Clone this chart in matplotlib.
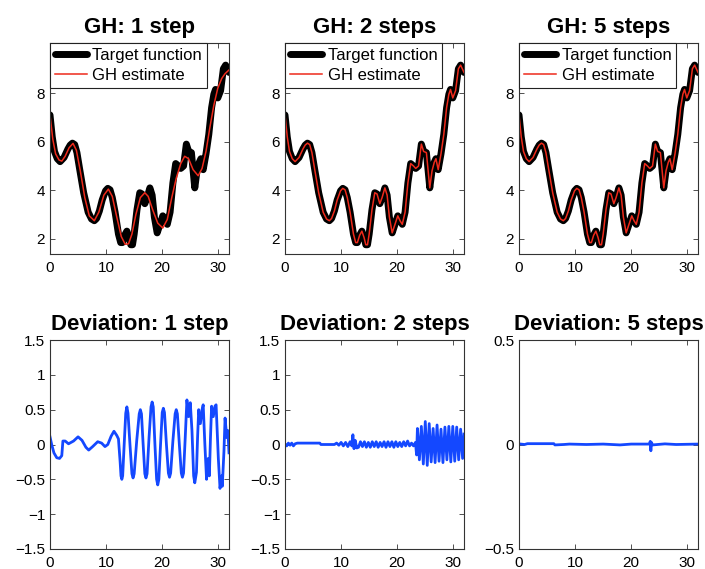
import numpy as np
import matplotlib.pyplot as plt
from matplotlib.ticker import FuncFormatter

plt.rcParams['font.family'] = ['Liberation Sans', 'DejaVu Sans']

# target function (same in every panel)
target_x = [0.0, 0.4, 0.8, 1.3, 1.8, 2.5, 3.2, 3.6, 4.0, 4.4, 4.8, 5.3, 6.0, 6.8, 7.4, 7.9,
            8.3, 8.8, 9.3, 9.9, 10.3, 10.7, 11.1, 11.6, 12.2, 12.6, 12.9, 13.3, 13.7, 14.1,
            14.4, 14.7, 15.0, 15.5, 16.0, 16.4, 16.9, 17.3, 17.8, 18.2, 18.6, 19.1, 19.6,
            20.1, 20.5, 20.9, 21.4, 21.9, 22.4, 22.9, 23.3, 23.8, 24.3, 24.7, 25.2, 25.8,
            26.2, 26.6, 26.9, 27.3, 27.8, 28.3, 28.8, 29.2, 29.5, 29.9, 30.4, 30.9, 31.3, 31.9]
target_y = [7.1, 6.2, 5.6, 5.3, 5.18, 5.35, 5.7, 5.86, 5.94, 5.88, 5.55, 4.85, 3.9, 3.1, 2.82, 2.75,
            2.84, 3.15, 3.6, 3.98, 4.08, 4.02, 3.7, 3.1, 2.2, 1.85, 1.85, 2.15, 2.32, 2.05,
            1.76, 1.76, 2.2, 3.2, 3.9, 3.85, 3.45, 3.7, 4.1, 3.8, 2.9, 2.25, 2.6,
            2.95, 2.75, 2.6, 3.1, 4.3, 5.1, 5.0, 4.9, 5.0, 5.9, 5.6, 5.55, 4.1,
            4.8, 5.15, 5.3, 4.85, 5.5, 6.3, 7.4, 7.95, 8.15, 7.8, 8.1, 9.0, 9.15, 8.85]

# GH estimate after one step (smooth)
est1_x = [0.0, 0.5, 1.0, 1.6, 2.1, 2.7, 3.4, 4.1, 4.7, 5.4, 6.2, 7.0, 7.9, 8.7, 9.6,
          10.4, 11.1, 11.9, 12.7, 13.4, 14.0, 14.6, 15.3, 16.1, 16.9, 17.5, 18.3, 19.2,
          20.1, 20.9, 21.7, 22.5, 23.3, 24.0, 24.7, 25.5, 26.4, 27.1, 27.8, 28.5, 29.2,
          29.9, 30.6, 31.2, 31.9]
est1_y = [7.1, 6.1, 5.5, 5.25, 5.2, 5.4, 5.75, 5.93, 5.65, 4.8, 3.7, 2.95, 2.75, 3.1, 3.8,
          4.05, 3.75, 2.9, 2.1, 1.78, 1.8, 2.2, 3.0, 3.7, 3.9, 3.75, 3.2, 2.65,
          2.45, 2.8, 3.7, 4.5, 5.1, 5.4, 5.3, 4.85, 4.6, 4.9, 5.6, 6.6, 7.5,
          8.2, 8.6, 8.8, 8.95]

# deviations
dev1_x = [0.0, 0.3, 0.7, 1.2, 1.7, 2.1, 2.3, 2.7, 3.3, 4.2, 5.0, 5.7, 6.4, 6.9, 7.6,
          8.5, 9.2, 9.8, 10.3, 10.9, 11.4, 11.9, 12.2, 12.5, 12.65, 12.8, 12.95, 13.25,
          13.5, 13.7, 13.9, 14.25, 14.6, 14.8, 15.0, 15.45, 15.9, 16.1, 16.3, 16.6, 16.9,
          17.1, 17.3, 17.65, 18.0, 18.2, 18.4, 18.7, 19.0, 19.2, 19.4, 19.7, 20.0, 20.2,
          20.4, 20.75, 21.1, 21.3, 21.5, 21.9, 22.3, 22.5, 22.7, 23.05, 23.4, 23.6, 23.8,
          24.1, 24.4, 24.7, 25.0, 25.3, 25.6, 25.8, 26.1, 26.3, 26.5, 26.8, 27.1, 27.3,
          27.6, 27.9, 28.2, 28.4, 28.6, 28.8, 29.1, 29.4, 29.6, 30.0, 30.3, 30.6, 30.7,
          31.0, 31.2, 31.5, 31.7, 31.9]
dev1_y = [0.11, 0.0, -0.12, -0.19, -0.2, -0.16, 0.05, 0.05, 0.01, 0.05, 0.11, 0.06, -0.04, -0.08, -0.03,
          0.04, 0.02, -0.03, 0.0, 0.12, 0.19, 0.13, 0.08, -0.25, -0.45, -0.5, -0.45, 0.05,
          0.45, 0.54, 0.45, 0.0, -0.42, -0.48, -0.42, 0.05, 0.44, 0.5, 0.44, 0.0, -0.42,
          -0.48, -0.42, 0.1, 0.54, 0.61, 0.54, 0.0, -0.5, -0.58, -0.5, 0.0, 0.46, 0.52,
          0.46, 0.0, -0.41, -0.47, -0.41, 0.05, 0.44, 0.5, 0.44, 0.0, -0.41, -0.47, -0.41,
          0.1, 0.64, 0.4, 0.6, 0.2, -0.45, -0.55, -0.4, 0.1, 0.5, 0.3, 0.5, 0.57,
          0.0, -0.5, -0.2, -0.45, 0.1, 0.55, 0.4, 0.55, 0.57, -0.2, -0.63, -0.45, -0.6,
          -0.1, 0.38, 0.1, 0.2, -0.12]

dev2_x = [0.0, 0.3, 0.6, 0.9, 1.2, 1.5, 1.8, 2.2, 3.0, 4.0, 5.0, 6.2, 6.4, 7.0, 8.0,
          8.8, 9.2, 9.6, 10.0, 10.4, 10.8, 11.2, 11.6, 11.9, 12.1, 12.3, 12.5, 12.8,
          13.1, 13.45, 13.8, 14.15, 14.5, 14.85, 15.2, 15.55, 15.9, 16.25, 16.6, 16.95,
          17.3, 17.65, 18.0, 18.35, 18.7, 19.05, 19.4, 19.75, 20.1, 20.45, 20.8, 21.15,
          21.5, 21.85, 22.2, 22.55, 22.9, 23.25, 23.45, 23.6, 23.95, 24.3, 24.65, 25.0,
          25.35, 25.7, 26.05, 26.4, 26.75, 27.1, 27.45, 27.8, 28.15, 28.5, 28.85, 29.2,
          29.55, 29.9, 30.25, 30.6, 30.95, 31.3, 31.65, 31.9]
dev2_y = [0.01, -0.02, 0.02, -0.01, 0.02, -0.02, 0.01, 0.02, 0.02, 0.02, 0.02, 0.02, 0.0, 0.0, 0.0,
          0.0, 0.02, -0.01, 0.03, -0.02, 0.03, -0.03, 0.04, -0.02, 0.14, -0.06, 0.06, -0.05,
          -0.04, 0.04, -0.03, 0.04, -0.04, 0.03, -0.04, 0.04, -0.03, 0.04, -0.04, 0.03,
          -0.03, 0.04, -0.04, 0.04, -0.03, 0.04, -0.04, 0.04, -0.03, 0.03, -0.03, 0.04,
          -0.02, 0.05, -0.02, 0.02, -0.02, 0.03, -0.15, 0.23, -0.22, 0.26, -0.28, 0.33,
          -0.30, 0.30, -0.25, 0.23, -0.26, 0.28, -0.24, 0.22, -0.26, 0.25, -0.22, 0.26,
          -0.25, 0.26, -0.24, 0.25, -0.22, 0.22, -0.2, 0.15]

dev5_x = [0.0, 1.0, 1.5, 3.0, 6.2, 6.4, 8.0, 9.0, 12.0, 15.0, 18.0, 20.0, 23.2, 23.4,
          23.5, 23.6, 23.8, 26.0, 28.0, 31.9]
dev5_y = [0.003, 0.0, 0.004, 0.004, 0.004, -0.002, 0.0, 0.002, 0.0, 0.002, -0.002, 0.002,
          0.002, 0.015, -0.03, 0.01, -0.002, 0.003, 0.0, 0.002]

titles_top = ['GH: 1 step', 'GH: 2 steps', 'GH: 5 steps']
titles_dev = ['Deviation: 1 step', 'Deviation: 2 steps', 'Deviation: 5 steps']
dev_lims = [1.5, 1.5, 0.5]

est_x = [est1_x, target_x, target_x]
est_y = [est1_y, target_y, target_y]
devs = [(dev1_x, dev1_y), (dev2_x, dev2_y), (dev5_x, dev5_y)]

RED = '#ee2a1b'
BLUE = '#1448ff'
XMAX = 31.9

fig = plt.figure(figsize=(7.05, 5.69), dpi=100)
lefts = [50 / 705, 285 / 705, 519 / 705]
w = 179 / 705

# matlab-ish tick labels: 1, 0.5, -0.5 with a real minus sign
fmt = FuncFormatter(lambda v, _: ('%g' % v).replace('-', '\u2212'))


def style(ax):
    ax.tick_params(direction='in', top=True, right=True, length=3.5, width=0.6,
                   labelsize=11, colors='#333333', labelcolor='black')
    ax.tick_params(axis='x', pad=5)
    ax.xaxis.set_major_formatter(fmt)
    ax.yaxis.set_major_formatter(fmt)
    for s in ax.spines.values():
        s.set_color('#333333')
        s.set_linewidth(0.8)


for i in range(3):
    ax = fig.add_axes([lefts[i], 1 - 254 / 569, w, 211 / 569])
    ax.plot(target_x, target_y, color='black', linewidth=5, label='Target function',
            solid_joinstyle='round', solid_capstyle='round')
    ax.plot(est_x[i], est_y[i], color=RED, linewidth=1.1, label='GH estimate')
    ax.set_xlim(0, XMAX)
    ax.set_ylim(1.38, 10.06)
    ax.set_xticks([0, 10, 20, 30])
    ax.set_yticks([2, 4, 6, 8])
    ax.set_title(titles_top[i], fontsize=16, fontweight='bold', pad=7.5)
    leg = ax.legend(loc='upper left', borderaxespad=0, fontsize=12, handlelength=1.9,
                    handletextpad=0.35, labelspacing=0.3, borderpad=0.3,
                    fancybox=False, framealpha=1)
    leg.get_frame().set_edgecolor('#222222')
    leg.get_frame().set_linewidth(0.8)
    style(ax)

    ax2 = fig.add_axes([lefts[i], 1 - 549 / 569, w, 209 / 569])
    ax2.plot(devs[i][0], devs[i][1], color=BLUE, linewidth=2)
    ax2.set_xlim(0, XMAX)
    lim = dev_lims[i]
    ax2.set_ylim(-lim, lim)
    ax2.set_xticks([0, 10, 20, 30])
    ax2.set_yticks(np.arange(-lim, lim + 0.01, 0.5))
    ax2.set_title(titles_dev[i], fontsize=16, fontweight='bold', pad=7.5)
    style(ax2)

fig.savefig('out.png', dpi=100)
